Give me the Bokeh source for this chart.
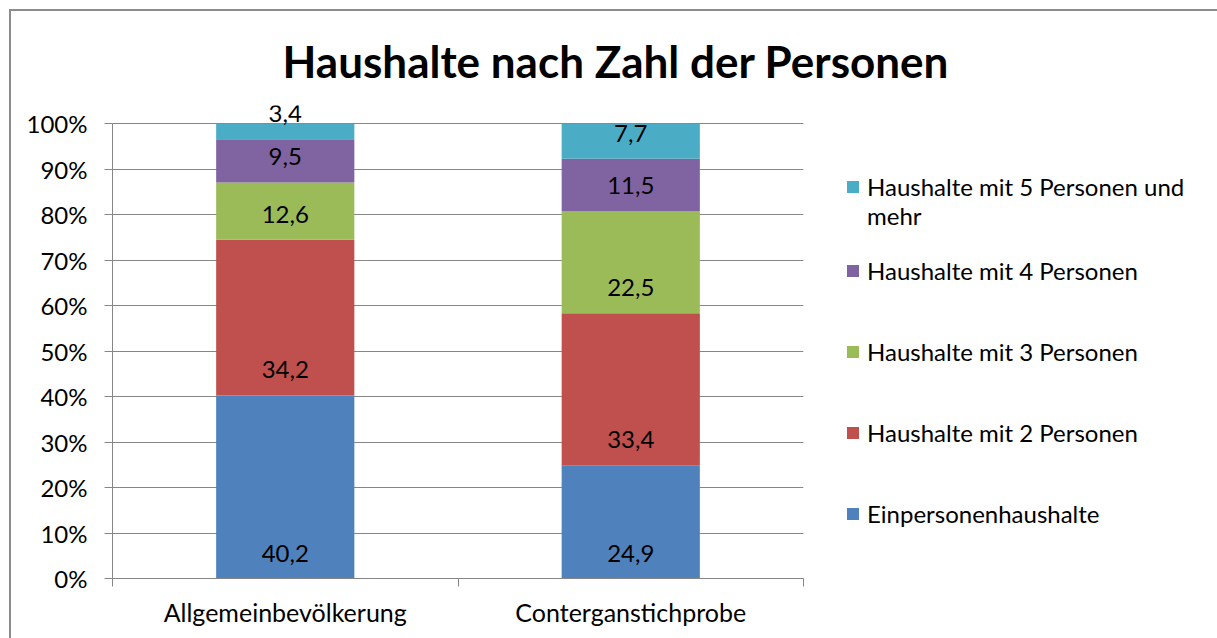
from bokeh.plotting import figure
from bokeh.models import (ColumnDataSource, Range1d, FixedTicker, PrintfTickFormatter,
                          LabelSet, Legend, LegendItem)
from bokeh.embed import file_html
from bokeh.resources import INLINE
from bokeh.core.properties import value

# ---------------- data ----------------
title_text = "Haushalte nach Zahl der Personen"
categories = ["Allgemeinbevölkerung", "Conterganstichprobe"]
series_names = [
    "Einpersonenhaushalte",
    "Haushalte mit 2 Personen",
    "Haushalte mit 3 Personen",
    "Haushalte mit 4 Personen",
    "Haushalte mit 5 Personen und mehr",
]
einpersonen = [40.2, 24.9]
zwei_personen = [34.2, 33.4]
drei_personen = [12.6, 22.5]
vier_personen = [9.5, 11.5]
fuenf_plus = [3.4, 7.7]
y_ticks = [0, 10, 20, 30, 40, 50, 60, 70, 80, 90, 100]

colors = ["#4F81BD", "#C0504D", "#9BBB59", "#8064A2", "#4BACC6"]
FONT = "Lato"
GRAY = "#868686"
FRAME_GRAY = "#8c8c8c"

series_values = [einpersonen, zwei_personen, drei_personen, vier_personen, fuenf_plus]
n = len(categories)
totals = [sum(s[i] for s in series_values) for i in range(n)]
xs = [i + 0.5 for i in range(n)]

keys = [f"s{k}" for k in range(len(series_values))]
data = {"x": xs}
for k, s in zip(keys, series_values):
    data[k] = [s[i] / totals[i] * 100 for i in range(n)]
src = ColumnDataSource(data)

# data labels sit just above the base of each segment ("inside base")
lx, ly, lt = [], [], []
for i in range(n):
    base = 0.0
    for s in series_values:
        share = s[i] / totals[i] * 100
        lx.append(xs[i])
        ly.append(base)
        lt.append(f"{s[i]:.1f}".replace(".", ","))
        base += share
lsrc = ColumnDataSource(dict(x=lx, y=ly, text=lt))

# ---------------- figure ----------------
p = figure(frame_width=691, frame_height=473, x_range=Range1d(0, n), y_range=Range1d(0, 104),
           output_backend="svg", toolbar_location=None,
           min_border_left=112, min_border_right=26, min_border_top=105, min_border_bottom=60)
p.outline_line_color = None
p.background_fill_color = "white"
p.border_fill_color = None
p.styles = {
    "background": (f"linear-gradient({FRAME_GRAY},{FRAME_GRAY}) 9px 9px / 2px 100% no-repeat, "
                   f"linear-gradient({FRAME_GRAY},{FRAME_GRAY}) 9px 9px / 100% 2px no-repeat white"),
}

rs = p.vbar_stack(keys, x="x", width=0.4, source=src, fill_color=colors, line_color=None)

labels = LabelSet(x="x", y="y", text="text", y_offset=17, source=lsrc,
                  text_font=value(FONT), text_font_size="24px", text_color="black",
                  text_align="center", text_baseline="alphabetic")
p.add_layout(labels)

# title
p.title.text = title_text
p.title.text_font = FONT
p.title.text_font_style = "bold"
p.title.text_font_size = "44px"
p.title.text_color = "black"
p.title.align = "left"
p.title.offset = 170
p.title.standoff = 37

# y axis
p.yaxis.ticker = FixedTicker(ticks=y_ticks)
p.yaxis.bounds = (0, 100)
p.yaxis.formatter = PrintfTickFormatter(format="%d%%")
p.yaxis.axis_line_color = GRAY
p.yaxis.major_tick_line_color = GRAY
p.yaxis.major_tick_out = 8
p.yaxis.major_tick_in = 0
p.yaxis.minor_tick_line_color = None
p.yaxis.major_label_text_font = FONT
p.yaxis.major_label_text_font_size = "24px"
p.yaxis.major_label_text_color = "black"
p.yaxis.major_label_standoff = 17

# x axis
p.xaxis.ticker = FixedTicker(ticks=xs, minor_ticks=[i for i in range(n + 1)])
p.xaxis.major_label_overrides = {xs[i]: categories[i] for i in range(n)}
p.xaxis.axis_line_color = GRAY
p.xaxis.major_tick_line_color = None
p.xaxis.major_tick_out = 0
p.xaxis.major_tick_in = 0
p.xaxis.minor_tick_line_color = GRAY
p.xaxis.minor_tick_out = 8
p.xaxis.minor_tick_in = 0
p.xaxis.major_label_text_font = FONT
p.xaxis.major_label_text_font_size = "25px"
p.xaxis.major_label_text_color = "black"
p.xaxis.major_label_standoff = 10

p.xgrid.grid_line_color = None
p.ygrid.ticker = FixedTicker(ticks=y_ticks)
p.ygrid.grid_line_color = GRAY

# legend: one column, invisible spacer rows reproduce the wrapped first entry
blank = p.vbar(x=[], top=[], width=0.4, fill_alpha=0, line_alpha=0)
legend_rows = [
    ("Haushalte mit 5 Personen und", rs[4]),
    ("mehr", blank),
    (" ", blank),
    (series_names[3], rs[3]),
    (" ", blank),
    (" ", blank),
    (series_names[2], rs[2]),
    (" ", blank),
    (" ", blank),
    (series_names[1], rs[1]),
    (" ", blank),
    (" ", blank),
    (series_names[0], rs[0]),
]
legend = Legend(items=[LegendItem(label=t, renderers=[r]) for t, r in legend_rows],
                location=(42, 50), margin=0, padding=0,
                border_line_color=None, background_fill_alpha=0,
                glyph_width=15, glyph_height=15, label_standoff=7,
                label_text_font=FONT, label_text_font_size="24px", label_text_color="black",
                label_text_line_height=1.0, label_height=26, spacing=0)
p.add_layout(legend, "right")

open("out.html", "w").write(file_html(p, INLINE))
